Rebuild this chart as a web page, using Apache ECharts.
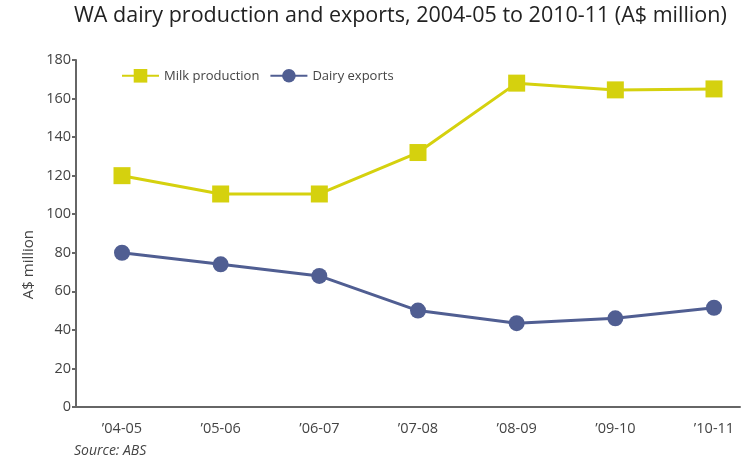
<!DOCTYPE html>
<html>
<head>
<meta charset="utf-8">
<script src="https://cdn.jsdelivr.net/npm/echarts@6/dist/echarts.min.js"></script>
<style>
  html, body { margin: 0; padding: 0; background: #fff; }
  #chart { width: 747px; height: 465px; }
</style>
</head>
<body>
<div id="chart"></div>
<script>
// Financial years shown on the horizontal axis
const categories = ['\u201904-05', '\u201905-06', '\u201906-07', '\u201907-08', '\u201908-09', '\u201909-10', '\u201910-11'];
// A$ million
const milkProduction = [120, 110.5, 110.5, 132, 168, 164.5, 165];
const dairyExports = [80, 74, 68, 50, 43.5, 46, 51.5];
// Value axis range
const yMin = 0;
const yMax = 180;
const yStep = 20;

const FONT = '"Open Sans", "Noto Sans", sans-serif';
const AXIS_COLOR = '#666';
const TEXT_COLOR = '#444';
const YELLOW = '#D5D10E';
const BLUE = '#505E92';

const chart = echarts.init(document.getElementById('chart'), null, { renderer: 'canvas' });

chart.setOption({
  animation: false,
  backgroundColor: '#fff',
  title: [
    {
      text: 'WA dairy production and exports, 2004-05 to 2010-11 (A$ million)',
      left: 74,
      top: 5,
      padding: 0,
      textStyle: { fontFamily: FONT, fontSize: 21.5, fontWeight: 'normal', color: '#222' }
    },
    {
      text: 'Source: ABS',
      left: 74,
      top: 444,
      padding: 0,
      textStyle: { fontFamily: FONT, fontSize: 14, fontStyle: 'italic', fontWeight: 'normal', color: TEXT_COLOR }
    }
  ],
  legend: {
    left: 116,
    top: 64,
    itemWidth: 37,
    itemHeight: 17,
    itemGap: 10,
    textStyle: { fontFamily: FONT, fontSize: 13, color: TEXT_COLOR },
    data: ['Milk production', 'Dairy exports']
  },
  graphic: [
    {
      type: 'text',
      left: 21,
      top: 230,
      rotation: Math.PI / 2,
      style: { text: 'A$ million', font: '15px ' + FONT, fill: TEXT_COLOR }
    }
  ],
  // grid 0 draws the axis frame, grid 1 holds the data points
  grid: [
    { left: 76, right: 7, top: 60, bottom: 58 },
    { left: 122, right: 33, top: 60, bottom: 58 }
  ],
  xAxis: [
    {
      gridIndex: 0, type: 'value', min: 0, max: 1,
      axisLine: { show: true, lineStyle: { color: AXIS_COLOR, width: 2 } },
      axisTick: { show: false }, axisLabel: { show: false }, splitLine: { show: false }
    },
    {
      gridIndex: 1, type: 'category', data: categories, boundaryGap: false,
      axisLine: { show: false }, axisTick: { show: false }, splitLine: { show: false },
      axisLabel: { margin: 14, color: TEXT_COLOR, fontSize: 14.5, fontFamily: FONT }
    }
  ],
  yAxis: [
    {
      gridIndex: 0, type: 'value', min: yMin, max: yMax, interval: yStep,
      axisLine: { show: true, lineStyle: { color: AXIS_COLOR, width: 2 } },
      axisTick: { show: true, inside: false, length: 4, lineStyle: { color: AXIS_COLOR, width: 2 } },
      axisLabel: { margin: 5, color: TEXT_COLOR, fontSize: 14.5, fontFamily: FONT },
      splitLine: { show: false }
    },
    {
      gridIndex: 1, type: 'value', min: yMin, max: yMax, interval: yStep, show: false,
      splitLine: { show: false }
    }
  ],
  series: [
    {
      name: 'Milk production', type: 'line', xAxisIndex: 1, yAxisIndex: 1,
      data: milkProduction,
      symbol: 'rect', symbolSize: 17,
      itemStyle: { color: YELLOW },
      lineStyle: { color: YELLOW, width: 3 }
    },
    {
      name: 'Dairy exports', type: 'line', xAxisIndex: 1, yAxisIndex: 1,
      data: dairyExports,
      symbol: 'circle', symbolSize: 16,
      itemStyle: { color: BLUE },
      lineStyle: { color: BLUE, width: 3 }
    }
  ]
});
</script>
</body>
</html>
